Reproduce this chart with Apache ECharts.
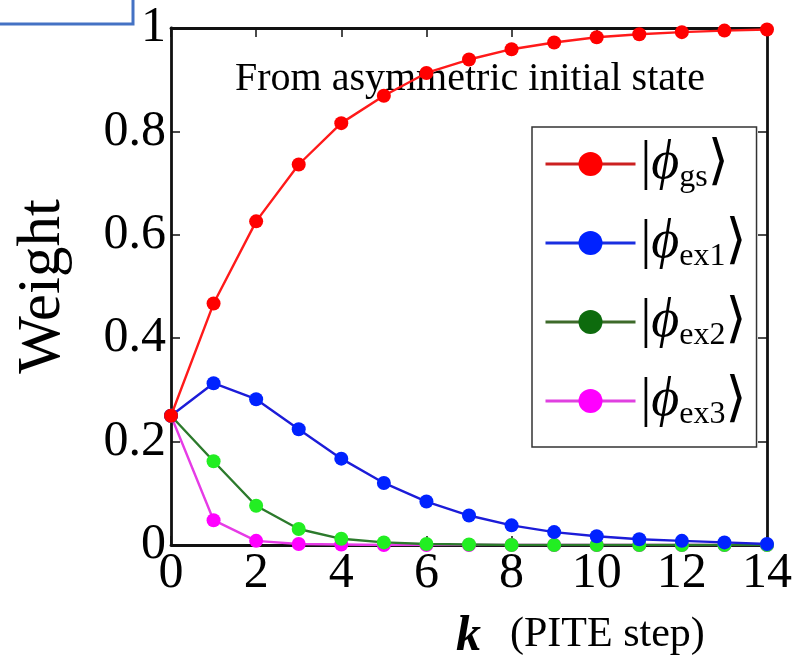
<!DOCTYPE html>
<html>
<head>
<meta charset="utf-8">
<script src="https://cdn.jsdelivr.net/npm/echarts@6/dist/echarts.min.js"></script>
<style>
  html, body { margin: 0; padding: 0; background: #fff; }
  #main { width: 795px; height: 667px; }
</style>
</head>
<body>
<div id="main"></div>
<script>
// PITE step k
const steps = [0, 1, 2, 3, 4, 5, 6, 7, 8, 9, 10, 11, 12, 13, 14]
// weight of each eigenstate
const wGs = [0.25, 0.467, 0.626, 0.736, 0.816, 0.869, 0.913, 0.939, 0.959, 0.972, 0.982, 0.988, 0.992, 0.995, 0.997]
const wEx1 = [0.25, 0.313, 0.282, 0.224, 0.167, 0.12, 0.084, 0.057, 0.038, 0.025, 0.017, 0.011, 0.008, 0.005, 0.002]
const wEx2 = [0.25, 0.162, 0.076, 0.031, 0.012, 0.005, 0.002, 0.001, 0, 0, 0, 0, 0, 0, 0]
const wEx3 = [0.25, 0.048, 0.008, 0.002, 0.001, 0, 0, 0, 0, 0, 0, 0, 0, 0, 0]
const stateNames = ['gs', 'ex1', 'ex2', 'ex3']
const yTicks = ['0', '0.2', '0.4', '0.6', '0.8', '1']

const serif = "'Liberation Serif', 'Times New Roman', 'DejaVu Serif', serif"

var chart = echarts.init(document.getElementById('main'))

function pairs(ys) {
  return steps.map((k, i) => [k, ys[i]])
}

function makeSeries(name, ys, lineColor, dotColor, z) {
  return {
    name: name,
    type: 'line',
    data: pairs(ys),
    z: z,
    symbol: 'circle',
    symbolSize: 14,
    lineStyle: { color: lineColor, width: 2.4 },
    itemStyle: { color: dotColor },
    emphasis: { disabled: true },
    animation: false
  }
}

// secondary axes only carry the inward ticks of the frame
const xBase = {
  type: 'value', min: 0, max: 14, interval: 2,
  axisLine: { show: true, onZero: false, lineStyle: { color: '#111', width: 2.8 } },
  axisTick: { show: true, inside: true, length: 9, lineStyle: { color: '#111', width: 1.5 } },
  splitLine: { show: false }
}
const yBase = {
  type: 'value', min: 0, max: 1, interval: 0.2,
  axisLine: { show: true, onZero: false, lineStyle: { color: '#111', width: 2.8 } },
  axisTick: { show: true, inside: true, length: 9, lineStyle: { color: '#111', width: 1.5 } },
  splitLine: { show: false }
}

var option = {
  backgroundColor: '#fff',
  animation: false,
  grid: { left: 171, right: 28, top: 28, bottom: 122, show: false },
  xAxis: [
    Object.assign({}, xBase, {
      position: 'bottom',
      axisLabel: { show: true, color: '#000', fontFamily: serif, fontSize: 50, margin: 4 }
    }),
    Object.assign({}, xBase, { position: 'top', axisLabel: { show: false } })
  ],
  yAxis: [
    Object.assign({}, yBase, {
      position: 'left',
      name: 'Weight',
      nameLocation: 'middle',
      nameGap: 98,
      nameTextStyle: { color: '#000', fontFamily: serif, fontSize: 61 },
      axisLabel: {
        show: true, color: '#000', fontFamily: serif, fontSize: 50, margin: 5,
        formatter: (v) => yTicks[Math.round(v * 5)]
      }
    }),
    Object.assign({}, yBase, { position: 'right', axisLabel: { show: false } })
  ],
  legend: {
    orient: 'vertical',
    left: 532,
    top: 127,
    padding: [10, 10, 16, 12],
    itemGap: 22,
    itemWidth: 90,
    itemHeight: 30,
    backgroundColor: '#fff',
    borderColor: '#333',
    borderWidth: 1.5,
    borderRadius: 0,
    selectedMode: false,
    data: [
      { name: 'gs', itemStyle: { color: '#ff0000' }, lineStyle: { color: '#cc2020', width: 3 } },
      { name: 'ex1', itemStyle: { color: '#0022ff' }, lineStyle: { color: '#1a2ee0', width: 3 } },
      { name: 'ex2', itemStyle: { color: '#0d6b0d' }, lineStyle: { color: '#3d6a2a', width: 3 } },
      { name: 'ex3', itemStyle: { color: '#ff00ff' }, lineStyle: { color: '#e040e0', width: 3 } }
    ],
    formatter: (name) => '{b||}{phi|ϕ}{sub|' + name + '}{b|⟩}',
    textStyle: {
      color: '#000',
      rich: {
        b: { fontFamily: serif, fontSize: 54, lineHeight: 60, color: '#000' },
        phi: { fontFamily: serif, fontStyle: 'italic', fontSize: 54, lineHeight: 60, color: '#000' },
        sub: { fontFamily: serif, fontSize: 32, lineHeight: 60, verticalAlign: 'bottom', color: '#000' }
      }
    }
  },
  graphic: [
    {
      // annotation inside the plot
      type: 'text', left: 235, top: 59, z: 0,
      style: { text: 'From asymmetric initial state', font: '40px ' + serif, fill: '#000' }
    },
    {
      // x axis title
      type: 'text', left: 456, top: 612,
      style: { text: 'k', font: 'italic bold 50px ' + serif, fill: '#000' }
    },
    {
      type: 'text', left: 510, top: 614,
      style: { text: '(PITE step)', font: '42px ' + serif, fill: '#000' }
    },
    {
      // slide label box cut off at the top edge
      type: 'rect', shape: { x: -4, y: -40, width: 137, height: 64 },
      style: { fill: '#fff', stroke: '#4472c4', lineWidth: 3 }
    },
    {
      type: 'text', left: 50, top: -33,
      style: { text: 'Result', font: '40px ' + serif, fill: '#000' }
    }
  ],
  series: [
    makeSeries('gs', wGs, '#ff1a1a', '#ff0000', 6),
    makeSeries('ex1', wEx1, '#1c1cd8', '#0022ff', 5),
    makeSeries('ex2', wEx2, '#2c7a2c', '#22ee22', 4),
    makeSeries('ex3', wEx3, '#e63ce6', '#ff00ff', 3)
  ]
}

chart.setOption(option)
</script>
</body>
</html>
